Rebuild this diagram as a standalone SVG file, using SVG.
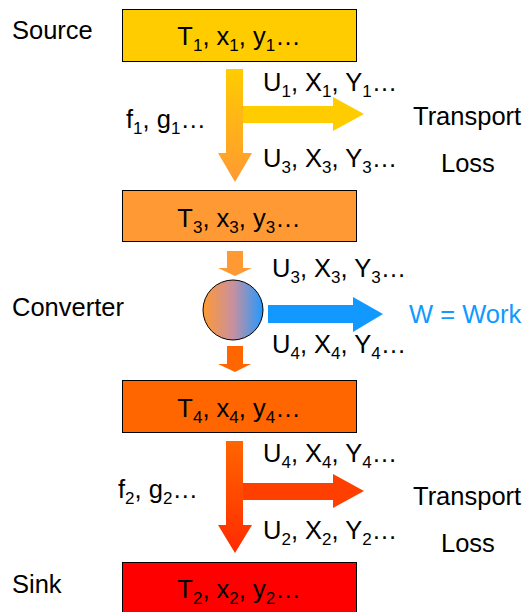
<svg xmlns="http://www.w3.org/2000/svg" width="525" height="612" viewBox="0 0 525 612">
<defs>
<linearGradient id="g1" x1="0" y1="0" x2="0" y2="1"><stop offset="0" stop-color="#FFCC00"/><stop offset="1" stop-color="#FF9933"/></linearGradient>
<linearGradient id="g2" x1="0" y1="0" x2="0" y2="1"><stop offset="0" stop-color="#FF6600"/><stop offset="1" stop-color="#FF2A00"/></linearGradient>
<linearGradient id="gc" x1="0" y1="0" x2="1" y2="0"><stop offset="0" stop-color="#FF9933"/><stop offset="0.5" stop-color="#C8909F"/><stop offset="1" stop-color="#2299FF"/></linearGradient>
</defs>
<style>
text{font-family:"Liberation Sans",Arial,sans-serif;font-size:25.5px;fill:#000}
.s{font-size:17px}
.box{stroke:#000;stroke-width:1}
.c{text-anchor:middle}
.w{fill:#1199FF}
</style>
<g id="source">
<text x="12" y="39">Source</text>
<rect class="box" x="122.5" y="9.5" width="234" height="52" fill="#FFCC00"/>
<text class="c" x="239" y="45">T<tspan class="s" dy="6">1</tspan><tspan dy="-6">, x</tspan><tspan class="s" dy="6">1</tspan><tspan dy="-6">, y</tspan><tspan class="s" dy="6">1</tspan><tspan dy="-6">…</tspan></text>
</g>
<g id="node3">
<rect class="box" x="122.5" y="190.5" width="234" height="51" fill="#FF9933"/>
<text class="c" x="239" y="227">T<tspan class="s" dy="6">3</tspan><tspan dy="-6">, x</tspan><tspan class="s" dy="6">3</tspan><tspan dy="-6">, y</tspan><tspan class="s" dy="6">3</tspan><tspan dy="-6">…</tspan></text>
</g>
<g id="converter">
<text x="12" y="316">Converter</text>
<circle cx="233" cy="310" r="30" fill="url(#gc)" stroke="#000" stroke-width="1"/>
</g>
<g id="node4">
<rect class="box" x="122.5" y="380.5" width="234" height="52" fill="#FF6600"/>
<text class="c" x="239" y="417">T<tspan class="s" dy="6">4</tspan><tspan dy="-6">, x</tspan><tspan class="s" dy="6">4</tspan><tspan dy="-6">, y</tspan><tspan class="s" dy="6">4</tspan><tspan dy="-6">…</tspan></text>
</g>
<g id="sink">
<text x="12" y="593">Sink</text>
<rect class="box" x="122.5" y="562.5" width="234" height="52" fill="#FF0000"/>
<text class="c" x="239" y="598">T<tspan class="s" dy="6">2</tspan><tspan dy="-6">, x</tspan><tspan class="s" dy="6">2</tspan><tspan dy="-6">, y</tspan><tspan class="s" dy="6">2</tspan><tspan dy="-6">…</tspan></text>
</g>
<g id="connectors">
<polygon points="243,106 333,106 333,97 364,114 333,131 333,123 243,123" fill="#FFCC00"/>
<polygon points="226,69 243,69 243,153 252,153 235,182 218,153 226,153" fill="url(#g1)"/>
<polygon points="227,251 243,251 243,268 252,268 235,276 218,268 227,268" fill="#FF9933"/>
<polygon points="268,305 353,305 353,297 383,314 353,332 353,323 268,323" fill="#1199FF"/>
<polygon points="227,346 243,346 243,364 251,364 235,372 218,364 227,364" fill="#FF6600"/>
<polygon points="243,483 333,483 333,474 364,491 333,508 333,500 243,500" fill="#FF3F00"/>
<polygon points="226,441 243,441 243,525 252,525 235,553 218,525 226,525" fill="url(#g2)"/>
</g>
<g id="labels">
<text x="263" y="91">U<tspan class="s" dy="6">1</tspan><tspan dy="-6">, X</tspan><tspan class="s" dy="6">1</tspan><tspan dy="-6">, Y</tspan><tspan class="s" dy="6">1</tspan><tspan dy="-6">…</tspan></text>
<text x="263" y="167">U<tspan class="s" dy="6">3</tspan><tspan dy="-6">, X</tspan><tspan class="s" dy="6">3</tspan><tspan dy="-6">, Y</tspan><tspan class="s" dy="6">3</tspan><tspan dy="-6">…</tspan></text>
<text x="126" y="128">f<tspan class="s" dy="6">1</tspan><tspan dy="-6">, g</tspan><tspan class="s" dy="6">1</tspan><tspan dy="-6">…</tspan></text>
<text x="413" y="125">Transport</text>
<text x="441" y="172">Loss</text>
<text x="272" y="277">U<tspan class="s" dy="6">3</tspan><tspan dy="-6">, X</tspan><tspan class="s" dy="6">3</tspan><tspan dy="-6">, Y</tspan><tspan class="s" dy="6">3</tspan><tspan dy="-6">…</tspan></text>
<text x="272" y="353">U<tspan class="s" dy="6">4</tspan><tspan dy="-6">, X</tspan><tspan class="s" dy="6">4</tspan><tspan dy="-6">, Y</tspan><tspan class="s" dy="6">4</tspan><tspan dy="-6">…</tspan></text>
<text class="w" x="409" y="323">W = Work</text>
<text x="263" y="462">U<tspan class="s" dy="6">4</tspan><tspan dy="-6">, X</tspan><tspan class="s" dy="6">4</tspan><tspan dy="-6">, Y</tspan><tspan class="s" dy="6">4</tspan><tspan dy="-6">…</tspan></text>
<text x="118" y="498">f<tspan class="s" dy="6">2</tspan><tspan dy="-6">, g</tspan><tspan class="s" dy="6">2</tspan><tspan dy="-6">…</tspan></text>
<text x="263" y="539">U<tspan class="s" dy="6">2</tspan><tspan dy="-6">, X</tspan><tspan class="s" dy="6">2</tspan><tspan dy="-6">, Y</tspan><tspan class="s" dy="6">2</tspan><tspan dy="-6">…</tspan></text>
<text x="413" y="505">Transport</text>
<text x="441" y="552">Loss</text>
</g>
</svg>
